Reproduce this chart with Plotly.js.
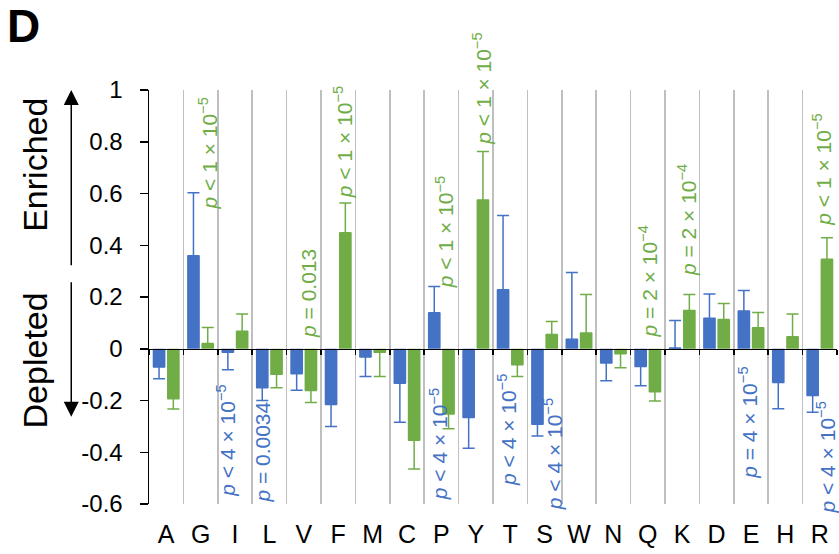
<!DOCTYPE html>
<html>
<head>
<meta charset="utf-8">
<script src="https://cdn.plot.ly/plotly-3.0.1.min.js"></script>
<style>html,body{margin:0;padding:0;background:#fff;}#chart{width:839px;height:554px;}</style>
</head>
<body>
<div id="chart"></div>
<script>
// ---- data ----
const categories = ['A','G','I','L','V','F','M','C','P','Y','T','S','W','N','Q','K','D','E','H','R'];
const blueValues = [-0.071,0.359,-0.014,-0.151,-0.097,-0.215,-0.032,-0.133,0.139,-0.266,0.228,-0.292,0.037,-0.055,-0.069,0.003,0.118,0.146,-0.130,-0.181];
const blueErrors = [0.045,0.244,0.067,0.049,0.063,0.085,0.075,0.151,0.102,0.119,0.287,0.045,0.258,0.069,0.074,0.106,0.094,0.079,0.102,0.064];
const greenValues = [-0.193,0.020,0.068,-0.099,-0.161,0.448,-0.014,-0.354,-0.252,0.575,-0.062,0.055,0.061,-0.019,-0.166,0.148,0.113,0.081,0.046,0.346];
const greenErrors = [0.040,0.062,0.066,0.052,0.047,0.115,0.093,0.111,0.057,0.187,0.045,0.050,0.149,0.054,0.036,0.062,0.062,0.059,0.088,0.083];

const greenLabelCats  = ['G','V','F','P','Y','Q','K','R'];
const greenLabelTexts = ['<i>p</i> &lt; 1 × 10<sup>−5</sup>','<i>p</i> = 0.013','<i>p</i> &lt; 1 × 10<sup>−5</sup>','<i>p</i> &lt; 1 × 10<sup>−5</sup>','<i>p</i> &lt; 1 × 10<sup>−5</sup>','<i>p</i> = 2 × 10<sup>−4</sup>','<i>p</i> = 2 × 10<sup>−4</sup>','<i>p</i> &lt; 1 × 10<sup>−5</sup>'];
const greenLabelY     = [0.529,0.035,0.575,0.228,0.780,0.035,0.274,0.467];
const greenLabelShift = [7,4,5,3,6,0,5,2];

const blueLabelCats  = ['I','L','P','T','S','E','R'];
const blueLabelTexts = ['<i>p</i> &lt; 4 × 10<sup>−5</sup>','<i>p</i> = 0.0034','<i>p</i> &lt; 4 × 10<sup>−5</sup>','<i>p</i> &lt; 4 × 10<sup>−5</sup>','<i>p</i> &lt; 4 × 10<sup>−5</sup>','<i>p</i> = 4 × 10<sup>−5</sup>','<i>p</i> &lt; 4 × 10<sup>−5</sup>'];
const blueLabelY     = [-0.131,-0.197,-0.143,-0.089,-0.185,-0.062,-0.197];
const blueLabelShift = [-9,-7,-3,-3,8,-3,6];

const yTickVals = [-0.6,-0.4,-0.2,0,0.2,0.4,0.6,0.8,1];
const yTickText = ['-0.6','-0.4','-0.2','0','0.2','0.4','0.6','0.8','1'];
const yMin = -0.6, yMax = 1;

// ---- styles ----
const BLUE = '#4472C4', GREEN = '#70AD47';
const FONT = 'Arial, "Liberation Sans", sans-serif';

function plusErr(v, e){ return v.map((x,i)=> x>=0 ? e[i] : 0); }
function minusErr(v, e){ return v.map((x,i)=> x<0 ? e[i] : 0); }

const traces = [
  {type:'bar', x:categories, y:blueValues, marker:{color:BLUE}, name:'blue',
   error_y:{type:'data', symmetric:false, array:plusErr(blueValues,blueErrors), arrayminus:minusErr(blueValues,blueErrors), color:BLUE, thickness:1.5, width:6},
   hoverinfo:'x+y'},
  {type:'bar', x:categories, y:greenValues, marker:{color:GREEN}, name:'green',
   error_y:{type:'data', symmetric:false, array:plusErr(greenValues,greenErrors), arrayminus:minusErr(greenValues,greenErrors), color:GREEN, thickness:1.5, width:6},
   hoverinfo:'x+y'},
  {type:'scatter', mode:'markers', x:categories, y:categories.map(()=>0), xaxis:'x2', yaxis:'y', marker:{opacity:0}, hoverinfo:'skip', showlegend:false}
];

const annotations = [];
greenLabelCats.forEach((c,i)=>{
  annotations.push({x:c, y:greenLabelY[i], xref:'x', yref:'y', text:greenLabelTexts[i], showarrow:false,
    textangle:-90, xanchor:'center', yanchor:'bottom', xshift:greenLabelShift[i],
    font:{family:FONT, size:21, color:GREEN}});
});
blueLabelCats.forEach((c,i)=>{
  annotations.push({x:c, y:blueLabelY[i], xref:'x', yref:'y', text:blueLabelTexts[i], showarrow:false,
    textangle:-90, xanchor:'center', yanchor:'top', xshift:blueLabelShift[i],
    font:{family:FONT, size:21, color:BLUE}});
});
// arrows + side labels
annotations.push({xref:'paper', yref:'y', x:-0.113, y:1.0, axref:'pixel', ayref:'y', ax:0, ay:0.317, text:'', showarrow:true,
  arrowhead:2, arrowsize:2, arrowwidth:1.5, arrowcolor:'#000'});
annotations.push({xref:'paper', yref:'y', x:-0.113, y:-0.263, axref:'pixel', ayref:'y', ax:0, ay:0.263, text:'', showarrow:true,
  arrowhead:2, arrowsize:2, arrowwidth:1.5, arrowcolor:'#000'});
annotations.push({xref:'paper', yref:'y', x:-0.166, y:0.71, text:'Enriched', showarrow:false, textangle:-90,
  xanchor:'center', yanchor:'middle', font:{family:FONT, size:34, color:'#000'}});
annotations.push({xref:'paper', yref:'y', x:-0.166, y:-0.046, text:'Depleted', showarrow:false, textangle:-90,
  xanchor:'center', yanchor:'middle', font:{family:FONT, size:34, color:'#000'}});
annotations.push({xref:'paper', yref:'paper', x:-0.21, y:1.222, text:'<b>D</b>', showarrow:false,
  xanchor:'left', yanchor:'top', font:{family:FONT, size:46, color:'#000'}});

const layout = {
  width:839, height:554, autosize:false,
  margin:{l:149, r:2, t:90, b:50, pad:0},
  paper_bgcolor:'#fff', plot_bgcolor:'#fff',
  showlegend:false,
  barmode:'group', bargap:0.17, bargroupgap:0.11,
  font:{family:FONT, color:'#000'},
  xaxis:{type:'category', categoryorder:'array', categoryarray:categories, range:[-0.5, categories.length-0.5],
    tickson:'boundaries', showgrid:true, gridcolor:'#bfbfbf', gridwidth:1.5,
    ticks:'', showline:false, zeroline:false, ticklabelstandoff:13,
    tickfont:{family:FONT, size:25, color:'#000'}, fixedrange:true},
  xaxis2:{type:'category', categoryorder:'array', categoryarray:categories, range:[-0.5, categories.length-0.5],
    overlaying:'x', anchor:'free', position:(0-yMin)/(yMax-yMin), side:'bottom',
    tickson:'boundaries', ticks:'outside', ticklen:5, tickwidth:1.5, tickcolor:'#000',
    showline:true, linecolor:'#000', linewidth:1.5, showticklabels:false, showgrid:false, zeroline:false, fixedrange:true},
  yaxis:{range:[yMin, yMax], tickvals:yTickVals, ticktext:yTickText, showline:true, linecolor:'#000', linewidth:1.5,
    ticks:'outside', ticklen:8, tickwidth:1.5, tickcolor:'#000', showgrid:false, zeroline:false,
    ticklabelstandoff:12, tickfont:{family:FONT, size:24, color:'#000'}, fixedrange:true},
  annotations:annotations
};

Plotly.newPlot('chart', traces, layout, {displayModeBar:false, staticPlot:true});
</script>
</body>
</html>
